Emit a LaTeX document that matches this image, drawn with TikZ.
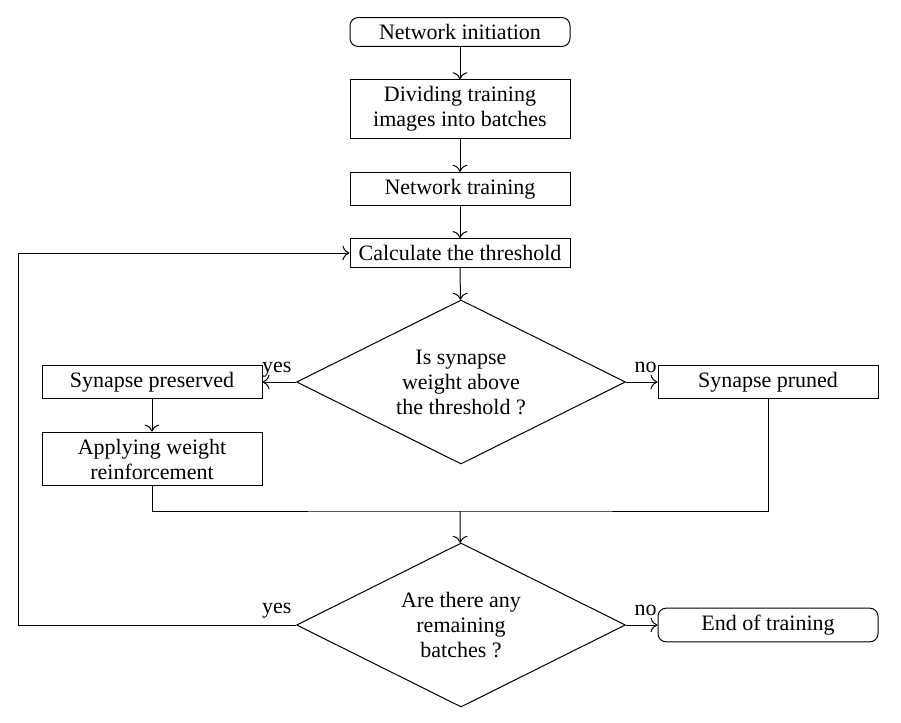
\documentclass[tikz,border=0pt]{standalone}
\usepackage{fontspec}
\setmainfont{Liberation Serif}
\usepackage{tikz}
\usetikzlibrary{arrows,arrows.meta,shapes,calc,positioning}

\begin{document}
\begin{tikzpicture}[x=0.5pt, y=-0.5pt, line width=0.5pt, >={To[scale=1.3]},
    font=\fontsize{11}{12.5}\selectfont,
    block/.style={draw, rectangle, minimum width=110pt, align=center},
    term/.style={block, rounded corners=4pt},
    decision/.style={draw, diamond, aspect=2, minimum width=164.5pt, minimum height=82pt, inner sep=0pt, align=center},
    lbl/.style={inner sep=1pt}]
    \useasboundingbox (0,0) rectangle (901,723);

    % Main column
    \node[term] (init) at (460,32) {Network initiation};
    \node[block] (divide) at (460,109) {Dividing training\\images into batches};
    \node[block] (train) at (460,189) {Network training};
    \node[block] (thresh) at (460,253) {Calculate the threshold};

    % First decision
    \node[decision] (dec1) at (461,382) {Is synapse\\weight above\\the threshold ?};
    \node[block] (preserved) at (152,382) {Synapse preserved};
    \node[block] (reinforce) at (152,459) {Applying weight\\reinforcement};
    \node[block] (pruned) at (768,382) {Synapse pruned};

    % Second decision
    \node[decision] (dec2) at (461,625) {Are there any\\remaining\\batches ?};
    \node[term] (finish) at (768,625) {End of training};

    \coordinate (merge) at (460,511);
    \coordinate (loop) at (18,625);

    % Arrows
    \draw[->] (init) -- (divide);
    \draw[->] (divide) -- (train);
    \draw[->] (train) -- (thresh);
    \draw[->] (thresh) -- (dec1);
    \draw[->] (dec1.west) node[lbl, above left=1pt and 1pt] {yes} -- (preserved);
    \draw[->] (dec1.east) node[lbl, above right=3.5pt and 3pt] {no} -- (pruned);
    \draw[->] (preserved) -- (reinforce);

    % Merging both branches
    \draw (reinforce.south) |- (merge) -| (pruned.south);
    \draw[->] (merge) -- (dec2);

    % Loop back and exit
    \draw[->] (dec2.west) node[lbl, above left=2pt and 1pt] {yes} -- (loop) |- (thresh.west);
    \draw[->] (dec2.east) node[lbl, above right=3.5pt and 3pt] {no} -- (finish);
\end{tikzpicture}
\end{document}
